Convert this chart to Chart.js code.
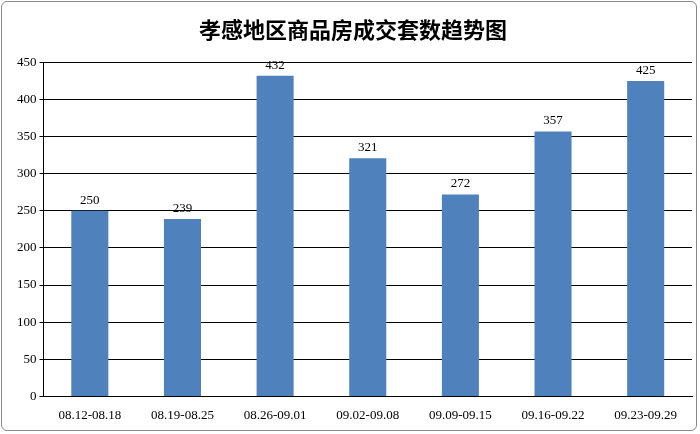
<!DOCTYPE html>
<html>
<head>
<meta charset="utf-8">
<script src="https://cdn.jsdelivr.net/npm/chart.js@4"></script>
<style>
  body { margin: 0; background: #fff; }
  #wrap { position: absolute; left: 1px; top: 1px; width: 696px; height: 430px; border: 1px solid #888; border-radius: 6px; box-sizing: border-box; }
</style>
</head>
<body>
<div id="wrap"><canvas id="c"></canvas></div>
<script>
const weeks = ["08.12-08.18", "08.19-08.25", "08.26-09.01", "09.02-09.08", "09.09-09.15", "09.16-09.22", "09.23-09.29"];
const deals = [250, 239, 432, 321, 272, 357, 425];

// 柱顶数值
const valueLabels = {
  id: "valueLabels",
  afterDatasetsDraw(chart) {
    const ctx = chart.ctx;
    ctx.save();
    ctx.font = "13px 'Liberation Serif', serif";
    ctx.fillStyle = "#000";
    ctx.textAlign = "center";
    ctx.textBaseline = "bottom";
    chart.getDatasetMeta(0).data.forEach((bar, i) => {
      ctx.fillText(deals[i], bar.x, bar.y - 4);
    });
    ctx.restore();
  }
};

new Chart(document.getElementById("c"), {
  type: "bar",
  data: {
    labels: weeks,
    datasets: [{ data: deals, backgroundColor: "#4F81BD", categoryPercentage: 0.8, barPercentage: 0.5 }]
  },
  options: {
    responsive: true,
    maintainAspectRatio: false,
    animation: false,
    layout: { padding: { left: 12, right: 4, top: 4, bottom: 4 } },
    plugins: {
      legend: { display: false },
      tooltip: { enabled: false },
      title: {
        display: true,
        text: "孝感地区商品房成交套数趋势图",
        color: "#000",
        font: { family: "'Noto Sans CJK SC'", size: 22, weight: "bold" },
        padding: { top: 10, bottom: 20 }
      }
    },
    scales: {
      x: {
        grid: { display: false },
        border: { color: "#000" },
        ticks: { color: "#000", font: { family: "'Liberation Serif', serif", size: 13 }, maxRotation: 0 }
      },
      y: {
        min: 0, max: 450,
        ticks: { stepSize: 50, color: "#000", font: { family: "'Liberation Serif', serif", size: 13 } },
        grid: { color: "#000", drawTicks: true, tickLength: 4 },
        border: { color: "#000" }
      }
    }
  },
  plugins: [valueLabels]
});
</script>
</body>
</html>
